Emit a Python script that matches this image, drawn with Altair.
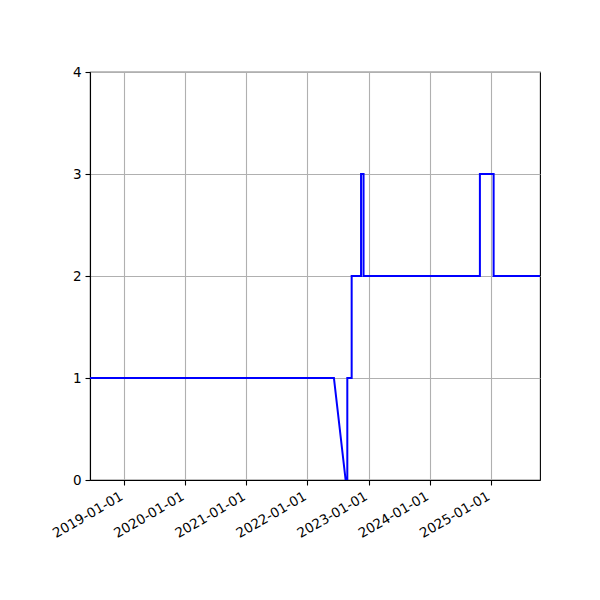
import altair as alt
import pandas as pd

dates = ["2018-06-12", "2022-06-08", "2022-08-17", "2022-08-27", "2022-08-27",
         "2022-09-22", "2022-09-22", "2022-11-17", "2022-11-17", "2022-12-02",
         "2022-12-02", "2024-10-27", "2024-10-27", "2025-01-17", "2025-01-17",
         "2025-10-21"]
values = [1, 1, 0, 0, 1, 1, 2, 2, 3, 3, 2, 2, 3, 3, 2, 2]
tick_years = [2019, 2020, 2021, 2022, 2023, 2024, 2025]
y_ticks = [0, 1, 2, 3, 4]

df = pd.DataFrame({"date": dates, "value": values, "order": list(range(len(dates)))})

font = "DejaVu Sans"

chart = alt.Chart(df).mark_line(color="blue", strokeWidth=2, clip=True).encode(
    x=alt.X("date:T",
            scale=alt.Scale(type="utc",
                            domain=[alt.DateTime(year=2018, month=6, date=12, utc=True),
                                    alt.DateTime(year=2025, month=10, date=21, utc=True)]),
            axis=alt.Axis(values=[alt.DateTime(year=y, month=1, date=1, utc=True) for y in tick_years],
                          format="%Y-%m-%d", labelAngle=-30, labelAlign="right",
                          labelBaseline="top", labelOffset=-6, title=None, grid=True)),
    y=alt.Y("value:Q", scale=alt.Scale(domain=[0, 4], nice=False, zero=True),
            axis=alt.Axis(values=y_ticks, format="d", title=None, grid=True)),
    order="order:Q",
).properties(
    width=450, height=408,
    autosize=alt.AutoSizeParams(type="none"),
    padding={"left": 82, "top": 64, "right": 52, "bottom": 112},
).configure_axis(
    labelFont=font, labelFontSize=13.5, labelColor="black",
    domainColor="black", domainWidth=1.1,
    tickColor="black", tickSize=5, tickWidth=1.1,
    labelPadding=4,
    gridColor="#b0b0b0", gridWidth=1.1,
    labelFlush=False, labelOverlap=False,
).configure_view(
    stroke="black", strokeWidth=1.1
)

chart.save("out.html", embed_options={"renderer": "svg", "actions": False})
